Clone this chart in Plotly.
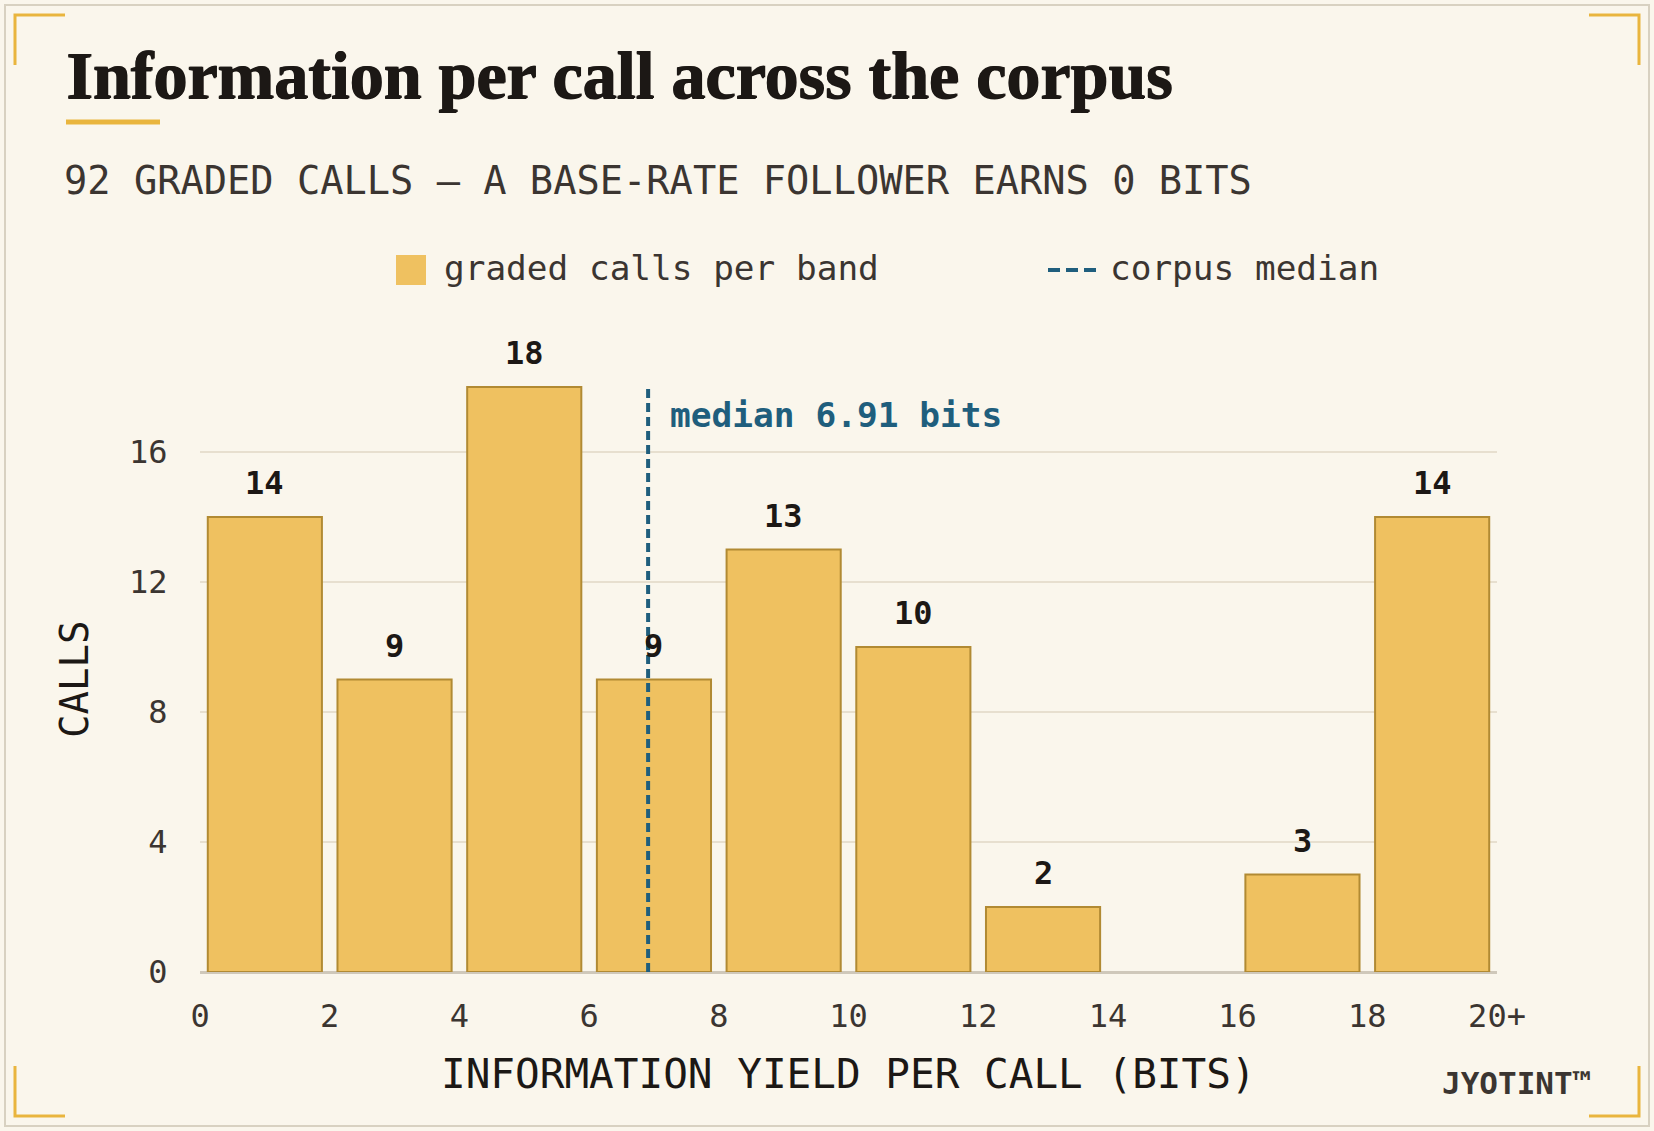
import plotly.graph_objects as go

# Histogram of information yield per graded call
band_starts = [0, 2, 4, 6, 8, 10, 12, 14, 16, 18]
band_counts = [14, 9, 18, 9, 13, 10, 2, 0, 3, 14]
tick_values = [0, 2, 4, 6, 8, 10, 12, 14, 16, 18, 20]
tick_labels = ['0', '2', '4', '6', '8', '10', '12', '14', '16', '18', '20+']
median_bits = 6.91

title_text = 'Information per call across the corpus'
subtitle_text = '92 GRADED CALLS \u2014 A BASE-RATE FOLLOWER EARNS 0 BITS'

# Page geometry (pixels)
W, H = 1654, 1131
ml, mr, mt, mb = 200, 157, 335, 159
pw = W - ml - mr
ph = H - mt - mb

MONO = 'DejaVu Sans Mono'
GOLD = '#efc160'
GOLD_EDGE = '#b18a33'
ACCENT = '#e9b53e'
TEAL = '#1f5e7d'
INK = '#1c1815'
SOFT_INK = '#3b3531'
BG = '#faf6ec'


def fx(px):
    return (px - ml) / pw


def fy(py):
    return (H - mb - py) / ph


band_centers = [b + 1 for b in band_starts]
# no outline on empty bands, so nothing shows there
edge_widths = [2 if n > 0 else 0 for n in band_counts]

fig = go.Figure()
fig.add_trace(go.Bar(
    x=band_centers, y=band_counts, width=1.76,
    marker=dict(color=GOLD, line=dict(color=GOLD_EDGE, width=edge_widths)),
    hovertemplate='%{y} calls<extra></extra>', showlegend=False,
))

# Value labels above bars (skip empty bands)
for xc, n in zip(band_centers, band_counts):
    if n == 0:
        continue
    fig.add_annotation(x=xc, y=n, xref='x', yref='y', text=str(n), showarrow=False,
                       yanchor='middle', yshift=34,
                       font=dict(family=MONO, size=32, color=INK, weight='bold'))

# Median line
fig.add_shape(type='line', xref='x', yref='y', x0=median_bits, x1=median_bits,
              y0=0, y1=max(band_counts), line=dict(color=TEAL, width=4, dash='9px,5px'))
fig.add_annotation(x=median_bits, y=max(band_counts), xref='x', yref='y',
                   text='median %.2f bits' % median_bits, showarrow=False,
                   xanchor='left', yanchor='middle', xshift=20, yshift=-28,
                   font=dict(family=MONO, size=34.5, color=TEAL, weight='bold'))

# Title block (slight shadow to get a heavier display weight)
fig.add_annotation(x=fx(64), y=fy(75), xref='paper', yref='paper', text='<b>' + title_text + '</b>',
                   showarrow=False, xanchor='left', yanchor='middle',
                   font=dict(family='Liberation Serif', size=68, color=INK,
                             shadow='1.2px 0px 0px #1c1815, 0px 0.6px 0px #1c1815'))
fig.add_shape(type='line', xref='paper', yref='paper', x0=fx(66), x1=fx(160),
              y0=fy(122), y1=fy(122), line=dict(color=ACCENT, width=5))
fig.add_annotation(x=fx(62), y=fy(180), xref='paper', yref='paper', text=subtitle_text,
                   showarrow=False, xanchor='left', yanchor='middle',
                   font=dict(family=MONO, size=38.7, color=SOFT_INK))

# Custom legend
fig.add_shape(type='rect', xref='paper', yref='paper', x0=fx(396), x1=fx(426),
              y0=fy(285), y1=fy(255), fillcolor=GOLD, line=dict(width=0))
fig.add_annotation(x=fx(442), y=fy(268), xref='paper', yref='paper', text='graded calls per band',
                   showarrow=False, xanchor='left', yanchor='middle',
                   font=dict(family=MONO, size=34.4, color=SOFT_INK))
fig.add_shape(type='line', xref='paper', yref='paper', x0=fx(1048), x1=fx(1098),
              y0=fy(270), y1=fy(270), line=dict(color=TEAL, width=4, dash='12px,6px'))
fig.add_annotation(x=fx(1108), y=fy(268), xref='paper', yref='paper', text='corpus median',
                   showarrow=False, xanchor='left', yanchor='middle',
                   font=dict(family=MONO, size=34.4, color=SOFT_INK))

# Axis titles
fig.add_annotation(x=0.5, y=fy(1074), xref='paper', yref='paper',
                   text='INFORMATION YIELD PER CALL (BITS)', showarrow=False,
                   xanchor='center', yanchor='middle',
                   font=dict(family=MONO, size=41, color=INK))
fig.add_annotation(x=fx(74), y=fy(680), xref='paper', yref='paper', text='CALLS',
                   showarrow=False, textangle=-90, xanchor='center', yanchor='middle',
                   font=dict(family=MONO, size=39, color=INK))

# Brand mark
fig.add_annotation(x=fx(1593), y=fy(1083), xref='paper', yref='paper', text='JYOTINT\u2122',
                   showarrow=False, xanchor='right', yanchor='middle',
                   font=dict(family=MONO, size=31, color=SOFT_INK, weight='bold'))

# Frame and corner brackets
fig.add_shape(type='rect', xref='paper', yref='paper', x0=fx(5), x1=fx(W - 5),
              y0=fy(H - 5), y1=fy(5), line=dict(color='#d8d1c1', width=2), layer='below')
blen = 50
inset = 15
corners = [(inset, inset, 1, 1), (W - inset, inset, -1, 1),
           (inset, H - inset, 1, -1), (W - inset, H - inset, -1, -1)]
for cx, cy, dx, dy in corners:
    fig.add_shape(type='path', xref='paper', yref='paper',
                  path='M %f %f L %f %f L %f %f' % (fx(cx + dx * blen), fy(cy), fx(cx), fy(cy),
                                                    fx(cx), fy(cy + dy * blen)),
                  line=dict(color=ACCENT, width=3))

fig.update_xaxes(range=[0, 20], tickvals=tick_values, ticktext=tick_labels,
                 showgrid=False, zeroline=False, showline=False,
                 ticks='outside', ticklen=16, tickcolor='rgba(0,0,0,0)',
                 tickfont=dict(family=MONO, size=32, color=SOFT_INK))
fig.update_yaxes(range=[0, 19.6], tickvals=[0, 4, 8, 12, 16],
                 showgrid=True, gridcolor='#e7dfcf', gridwidth=2,
                 zeroline=True, zerolinecolor='#cfc8ba', zerolinewidth=3, showline=False,
                 ticks='outside', ticklen=25, tickcolor='rgba(0,0,0,0)',
                 tickfont=dict(family=MONO, size=32, color=SOFT_INK))

fig.update_layout(width=W, height=H, margin=dict(l=ml, r=mr, t=mt, b=mb),
                  paper_bgcolor=BG, plot_bgcolor=BG, bargap=0.12,
                  showlegend=False)

fig.write_html('out.html', config={'displayModeBar': False},
               post_script="document.body.style.margin='0';")
